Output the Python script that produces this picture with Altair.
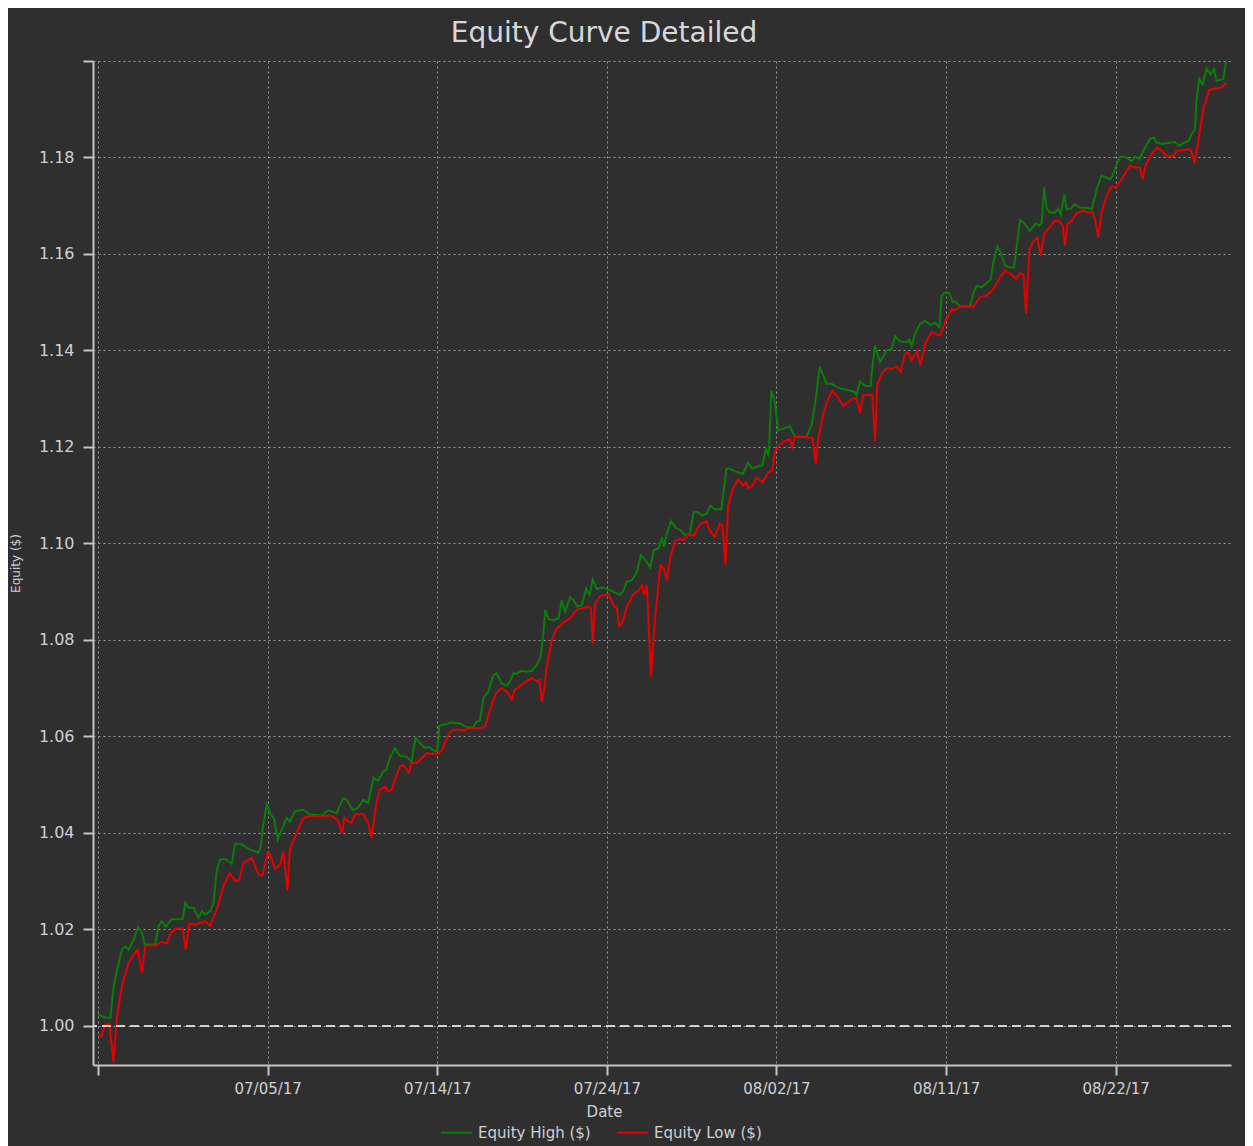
import altair as alt
import pandas as pd

title_text = "Equity Curve Detailed"
series_names = ["Equity High ($)", "Equity Low ($)"]
series_colors = ["#0a7d0a", "#e60000"]

# x axis: bar index, one labelled tick every 100 bars
tick_positions = [0, 100, 200, 300, 400, 500, 600]
tick_labels = ["", "07/05/17", "07/14/17", "07/24/17", "08/02/17", "08/11/17", "08/22/17"]
y_ticks = [1.00, 1.02, 1.04, 1.06, 1.08, 1.10, 1.12, 1.14, 1.16, 1.18, 1.20]
baseline_level = 1.00

high_bar = [
    0, 4.3, 7.3, 9.2, 11.2, 14.1, 16.1, 18, 21, 23.5, 25.9, 27.5, 33.7, 35.7, 37.6, 40, 43.1, 49.8,
    51.4, 53.3, 56.3, 59.2, 61.2, 63.1, 66.1, 68, 70, 71.9, 74.9, 78.8, 80.8, 84.7, 89.6, 94.5,
    95.9, 97, 99.4, 101.4, 103.9, 105.9, 109.2, 111.2, 113.1, 116.1, 121, 124.9, 131.8, 135.7,
    140.6, 144.5, 146.5, 150.4, 153.3, 156.3, 159.2, 162.4, 165, 168.1, 170, 172, 175, 178, 181.9,
    184.8, 187.2, 189.8, 192.7, 195.3, 197.6, 200, 201.2, 205.5, 208.5, 213.4, 217.3, 221.3, 223.2,
    225.2, 227.2, 230.1, 233.1, 235, 238, 240.9, 242.9, 244.9, 246.9, 249.8, 252.8, 255.7, 258.7,
    261, 262.6, 263.6, 265.6, 268.5, 271.5, 273.4, 275.4, 278.3, 280.3, 282.7, 285.2, 287.8, 289.8,
    291.7, 294.1, 297, 302, 304.9, 307.9, 309.8, 311.8, 314.8, 317.7, 320.1, 322.6, 325.6, 327.6,
    330.5, 332.5, 333.5, 335.4, 337.8, 340.4, 343.3, 345.9, 348.8, 351.2, 353.7, 356.3, 359, 361,
    363.6, 367.5, 370.5, 372.4, 376.4, 380.3, 383.3, 385.8, 389.2, 391.7, 393.7, 395.1, 395.7, 397,
    399, 401, 403.9, 407.9, 410.8, 417.7, 420.7, 422.6, 425.6, 429.5, 432.5, 437.4, 443.3, 446.3,
    447.2, 449.2, 452.2, 455.5, 456.7, 458.1, 461, 465, 467.9, 469.9, 472.8, 476.8, 478.3, 479.7,
    481.7, 484.6, 487.6, 490.6, 493.5, 496.1, 497.4, 499.4, 502, 503.9, 505.9, 508.3, 514.1, 516.1,
    518.1, 521, 524, 526.3, 527.9, 530.3, 532.2, 534.8, 537.3, 540.1, 543.6, 545.6, 549.5, 553, 555,
    556.4, 557.8, 559.3, 561.3, 564.2, 566.2, 567.6, 569.7, 571.1, 573.5, 576, 579, 582.9, 585.9,
    588.8, 591.7, 594.7, 596.7, 598.2, 600.6, 602.6, 606.5, 609.5, 611.4, 614, 616.3, 620.3, 622.6,
    623.8, 627.1, 631, 635, 637.5, 639.9, 642.8, 644.8, 646.8, 647.7, 649.3, 651.3, 653.6, 656, 658,
    659.5, 663.5, 665,
]
high_val = [
    1.0024, 1.0017, 1.0017, 1.0083, 1.0117, 1.0158, 1.0165, 1.0158, 1.0179, 1.0205, 1.0193, 1.0169,
    1.0169, 1.0207, 1.0217, 1.0205, 1.0221, 1.0221, 1.0255, 1.0245, 1.0245, 1.0224, 1.0238, 1.0231,
    1.0238, 1.0252, 1.0324, 1.0345, 1.0346, 1.0336, 1.0378, 1.0376, 1.0366, 1.0359, 1.0372, 1.0407,
    1.0459, 1.0441, 1.0428, 1.0386, 1.0414, 1.0431, 1.0424, 1.0445, 1.0448, 1.0438, 1.0436, 1.0447,
    1.0441, 1.0472, 1.0469, 1.0447, 1.0452, 1.0469, 1.0462, 1.0514, 1.0508, 1.0527, 1.0531, 1.0555,
    1.0576, 1.0560, 1.0558, 1.0548, 1.0598, 1.0586, 1.0576, 1.0578, 1.0571, 1.0569, 1.0622, 1.0626,
    1.0629, 1.0627, 1.0619, 1.0619, 1.0631, 1.0633, 1.0679, 1.0693, 1.0727, 1.0731, 1.0710, 1.0705,
    1.0714, 1.0731, 1.0730, 1.0736, 1.0734, 1.0736, 1.0748, 1.0765, 1.0814, 1.0863, 1.0843, 1.0841,
    1.0845, 1.0883, 1.0859, 1.0888, 1.0883, 1.0869, 1.0872, 1.0907, 1.0893, 1.0925, 1.0905, 1.0909,
    1.0903, 1.0898, 1.0893, 1.0903, 1.0921, 1.0924, 1.0941, 1.0976, 1.0966, 1.0950, 1.0986, 1.0990,
    1.1012, 1.0993, 1.1021, 1.1047, 1.1033, 1.1028, 1.1018, 1.1018, 1.1066, 1.1065, 1.1058, 1.1062,
    1.1079, 1.1071, 1.1071, 1.1155, 1.1155, 1.1148, 1.1145, 1.1167, 1.1155, 1.1160, 1.1162, 1.1196,
    1.1184, 1.1200, 1.1317, 1.1293, 1.1234, 1.1238, 1.1243, 1.1221, 1.1221, 1.1245, 1.1286, 1.1367,
    1.1331, 1.1331, 1.1321, 1.1317, 1.1314, 1.1308, 1.1336, 1.1327, 1.1326, 1.1369, 1.1410, 1.1376,
    1.1400, 1.1403, 1.1430, 1.1419, 1.1417, 1.1423, 1.1409, 1.1434, 1.1455, 1.1462, 1.1453, 1.1457,
    1.1448, 1.1514, 1.1520, 1.1519, 1.1501, 1.1501, 1.1491, 1.1491, 1.1520, 1.1534, 1.1531, 1.1540,
    1.1547, 1.1583, 1.1616, 1.1603, 1.1576, 1.1572, 1.1572, 1.1671, 1.1665, 1.1648, 1.1664, 1.1658,
    1.1665, 1.1738, 1.1694, 1.1686, 1.1686, 1.1694, 1.1681, 1.1723, 1.1693, 1.1694, 1.1703, 1.1696,
    1.1696, 1.1693, 1.1734, 1.1763, 1.1758, 1.1755, 1.1762, 1.1786, 1.1802, 1.1800, 1.1792, 1.1802,
    1.1796, 1.1814, 1.1839, 1.1841, 1.1832, 1.1828, 1.1830, 1.1832, 1.1824, 1.1830, 1.1834, 1.1848,
    1.1859, 1.1921, 1.1963, 1.1952, 1.1984, 1.1972, 1.1983, 1.1959, 1.1963, 1.1998,
]

low_bar = [
    0, 2, 4.3, 6.7, 9, 11.2, 14.1, 18, 21, 23.3, 25.9, 27.8, 33.7, 37.6, 40.6, 42.5, 45.5, 49.8,
    51.8, 53.7, 57.3, 63.1, 66.1, 70, 73.9, 77.5, 80.8, 83.1, 85.7, 90.6, 94.5, 97, 100, 101.4,
    104.3, 107.3, 109.2, 111.6, 113.1, 117, 121, 125.9, 133.7, 137.6, 141.6, 143.9, 145.1, 147.5,
    149.4, 151.4, 156.3, 159.2, 161.2, 164.1, 166.1, 169.1, 171.1, 173.1, 175, 178, 180, 183.3,
    184.8, 187.8, 193.7, 196.7, 200.6, 202.6, 206.5, 209.4, 212.4, 215.4, 218.3, 225.2, 228.1,
    231.1, 234.6, 238, 240.9, 243.9, 245.5, 250.8, 255.7, 258.7, 260.2, 261.6, 263, 264.6, 267.5,
    270.5, 274.4, 278.3, 282.3, 285.2, 289.2, 290.6, 291.7, 293.1, 296.1, 301, 303.9, 305.9, 307.3,
    308.9, 311.8, 315.7, 318.7, 320.7, 322, 323.6, 326, 328.5, 331.5, 333.5, 335.4, 337.4, 340.4,
    343.3, 345.3, 347.8, 351.2, 354.7, 358.7, 360.6, 363.6, 366.5, 368.1, 369.9, 371.5, 374.4,
    377.4, 380.3, 381.9, 383.3, 385.8, 388.2, 390.2, 391.7, 395.1, 397.6, 399, 402, 405.9, 407.9,
    409.3, 410.8, 416.7, 421.3, 423.2, 424.6, 427.6, 430.5, 433.1, 435.4, 439.4, 442.3, 445.3,
    447.2, 449.2, 451.2, 455.1, 456.5, 458.1, 459.4, 462, 465, 467.9, 470.9, 473.2, 475.8, 477.8,
    479.7, 482.7, 485, 487.6, 491.5, 494.1, 496.5, 499.4, 503.3, 505.3, 508.3, 516.1, 520, 524,
    527.9, 531.8, 534.8, 537.7, 541.3, 543.6, 545.6, 547.2, 549.1, 551.5, 553.8, 555.8, 557.8,
    560.3, 564.2, 567.2, 568.8, 570.1, 571.5, 574.1, 577, 580.9, 583.9, 586.4, 587.8, 589.8, 591.7,
    594.7, 597.6, 600.2, 603.5, 608.4, 611.4, 614.3, 615.9, 617.9, 621.2, 624.6, 627.1, 630.1, 634,
    636, 639.9, 643.8, 645.4, 646.4, 648.7, 651.7, 655.2, 658.5, 662.5, 665.4,
]
low_val = [
    0.9981, 0.9979, 1.0003, 1.0003, 0.9926, 1.0021, 1.0083, 1.0131, 1.0148, 1.0158, 1.0110, 1.0165,
    1.0167, 1.0174, 1.0171, 1.0190, 1.0201, 1.0203, 1.0158, 1.0212, 1.0210, 1.0217, 1.0208, 1.0241,
    1.0290, 1.0316, 1.0301, 1.0301, 1.0338, 1.0348, 1.0314, 1.0312, 1.0359, 1.0355, 1.0326, 1.0334,
    1.0362, 1.0281, 1.0366, 1.0400, 1.0431, 1.0435, 1.0435, 1.0436, 1.0424, 1.0399, 1.0431, 1.0424,
    1.0421, 1.0438, 1.0439, 1.0421, 1.0390, 1.0462, 1.0489, 1.0496, 1.0486, 1.0489, 1.0510, 1.0538,
    1.0541, 1.0525, 1.0545, 1.0545, 1.0565, 1.0564, 1.0564, 1.0571, 1.0603, 1.0614, 1.0614, 1.0612,
    1.0617, 1.0617, 1.0620, 1.0655, 1.0690, 1.0700, 1.0693, 1.0677, 1.0696, 1.0710, 1.0721, 1.0714,
    1.0717, 1.0672, 1.0696, 1.0745, 1.0800, 1.0824, 1.0836, 1.0845, 1.0863, 1.0865, 1.0869, 1.0865,
    1.0792, 1.0876, 1.0891, 1.0895, 1.0872, 1.0865, 1.0829, 1.0834, 1.0869, 1.0895, 1.0902, 1.0914,
    1.0893, 1.0914, 1.0724, 1.0848, 1.0955, 1.0948, 1.0924, 1.0972, 1.1006, 1.1009, 1.1007, 1.1018,
    1.1016, 1.1039, 1.1046, 1.1027, 1.1013, 1.1041, 1.1038, 1.0956, 1.1079, 1.1114, 1.1133, 1.1120,
    1.1127, 1.1115, 1.1119, 1.1136, 1.1131, 1.1126, 1.1147, 1.1152, 1.1191, 1.1205, 1.1214, 1.1216,
    1.1200, 1.1221, 1.1221, 1.1218, 1.1165, 1.1217, 1.1269, 1.1300, 1.1317, 1.1307, 1.1285, 1.1293,
    1.1301, 1.1300, 1.1271, 1.1307, 1.1308, 1.1307, 1.1212, 1.1327, 1.1352, 1.1363, 1.1362, 1.1367,
    1.1356, 1.1393, 1.1396, 1.1379, 1.1398, 1.1370, 1.1414, 1.1438, 1.1434, 1.1431, 1.1458, 1.1486,
    1.1483, 1.1491, 1.1491, 1.1510, 1.1514, 1.1527, 1.1552, 1.1565, 1.1560, 1.1548, 1.1560, 1.1558,
    1.1476, 1.1610, 1.1627, 1.1634, 1.1596, 1.1641, 1.1652, 1.1669, 1.1667, 1.1658, 1.1617, 1.1662,
    1.1669, 1.1685, 1.1690, 1.1686, 1.1687, 1.1672, 1.1634, 1.1686, 1.1721, 1.1740, 1.1738, 1.1755,
    1.1783, 1.1779, 1.1779, 1.1755, 1.1786, 1.1807, 1.1821, 1.1814, 1.1802, 1.1803, 1.1814, 1.1815,
    1.1817, 1.1805, 1.1788, 1.1834, 1.1900, 1.1940, 1.1943, 1.1945, 1.1955,
]

df = pd.concat([
    pd.DataFrame({"bar": high_bar, "equity": high_val, "series": series_names[0]}),
    pd.DataFrame({"bar": low_bar, "equity": low_val, "series": series_names[1]}),
], ignore_index=True)

x_label_expr = "[" + ",".join("'%s'" % t for t in tick_labels) + "][indexof(%s, datum.value)]" % (
    "[" + ",".join(str(p) for p in tick_positions) + "]")
y_label_expr = "datum.value > 1.199 ? '' : format(datum.value, '.2f')"

label_color = "#cfd0d6"
axis_color = "#c4c4c4"

x_enc = alt.X(
    "bar:Q",
    scale=alt.Scale(domain=[-3, 668], nice=False, zero=False),
    axis=alt.Axis(values=tick_positions, labelExpr=x_label_expr, title="Date", grid=True,
                  labelPadding=6, labelFontSize=15, titleX=511, titleY=46,
                  titleBaseline="middle", titleAlign="center", titleFontSize=15),
)
y_enc = alt.Y(
    "equity:Q",
    scale=alt.Scale(domain=[0.9919, 1.2], nice=False, zero=False),
    axis=alt.Axis(values=y_ticks, labelExpr=y_label_expr, title="Equity ($)", grid=True,
                  labelPadding=9, labelFontSize=16, titleX=-78, titleY=502,
                  titleBaseline="middle", titleAlign="center", titleAngle=270,
                  titleFontSize=12),
)

lines = alt.Chart(df).mark_line(strokeWidth=2, interpolate="linear").encode(
    x=x_enc,
    y=y_enc,
    color=alt.Color(
        "series:N",
        scale=alt.Scale(domain=series_names, range=series_colors),
        legend=alt.Legend(
            title=None, orient="none", direction="horizontal", legendX=347, legendY=1055,
            symbolType="stroke", symbolSize=961, symbolStrokeWidth=2, labelFontSize=15,
            labelColor=label_color, labelFont="DejaVu Sans", labelOffset=5,
            columnPadding=22, padding=0,
        ),
    ),
)

rule = alt.Chart(df).mark_rule(color="#d4d4d4", strokeDash=[9, 5], strokeWidth=1.5).encode(
    y=alt.datum(baseline_level)
)

chart = alt.layer(lines, rule).properties(
    width=1138,
    height=1004,
    autosize=alt.AutoSizeParams(type="none"),
    padding={"left": 85, "top": 53, "right": 14, "bottom": 95},
    background="#2f2f2f",
    title=alt.TitleParams(
        text=title_text, font="DejaVu Sans", fontSize=28, fontWeight="normal",
        color="#d8d8dc", anchor="middle", dx=-58, offset=10,
    ),
).configure_view(strokeWidth=0).configure_axis(
    domainColor=axis_color, domainWidth=2, tickColor=axis_color, tickWidth=2, tickSize=10,
    gridColor="#9a9a9a", gridDash=[2, 3], gridWidth=1,
    labelColor=label_color, labelFont="DejaVu Sans", labelFontSize=14,
    titleColor=label_color, titleFont="DejaVu Sans", titleFontWeight="normal",
)

chart.save("out.html", embed_options={"renderer": "svg", "actions": False})
